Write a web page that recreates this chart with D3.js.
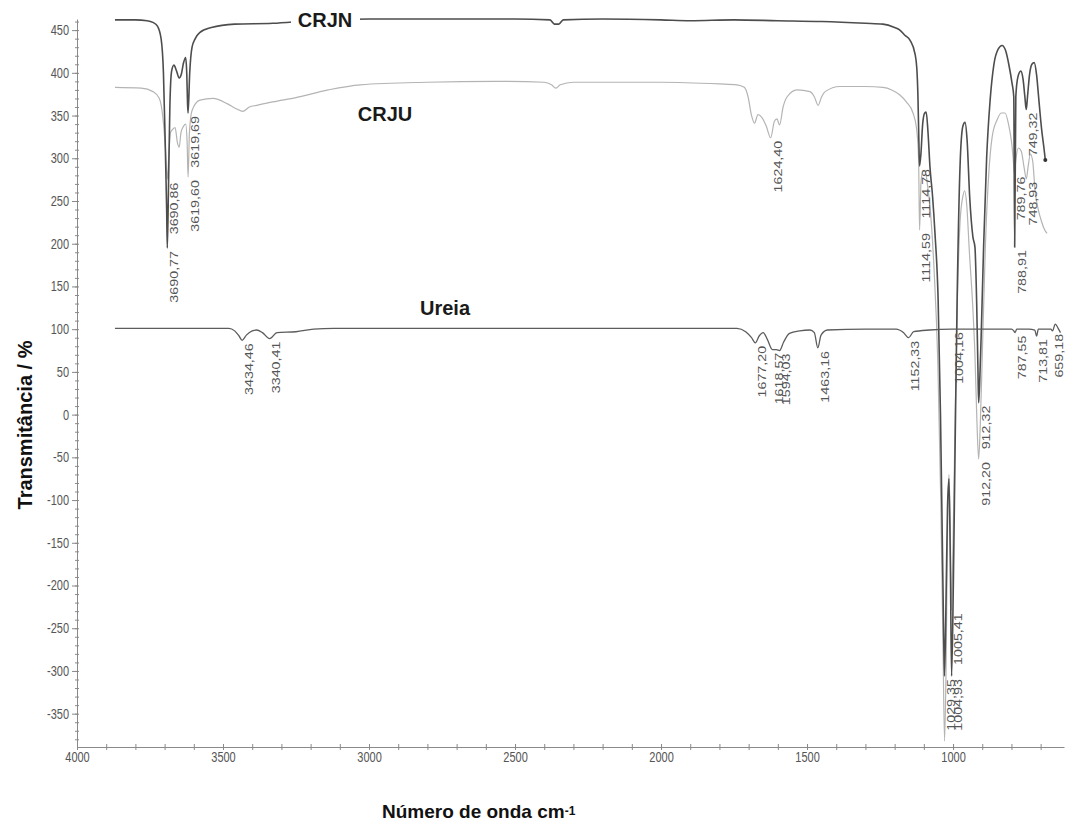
<!DOCTYPE html>
<html lang="pt">
<head>
<meta charset="UTF-8">
<title>FTIR CRJN / CRJU / Ureia</title>
<script src="https://cdn.jsdelivr.net/npm/d3@7"></script>
<style>
 body { margin: 0; background: #fff; font-family: "Liberation Sans", Arial, sans-serif; }
</style>
</head>
<body>
<div id="chart"></div>
<script>
const width = 1071, height = 831;

// spectra, [wavenumber cm-1, transmittance]
const crjn = [
  [3870,462],[3800,462],[3760,461],[3740,459],[3725,455],[3712,440],[3704,400],[3698,320],[3693,240],
  [3690.77,195],[3687,260],[3682,360],[3676,402],[3668,409],[3660,403],[3650,394],[3643,398],[3635,412],
  [3628,418],[3624,398],[3621.5,365],[3619.69,353],[3614,400],[3606,430],[3595,440],[3580,447],[3540,453],
  [3460,457],[3330,458],[3200,461],[3000,463],[2700,463],[2500,463],[2380,462],[2365,457],[2350,457],
  [2335,462],[2200,463],[2000,462],[1900,461],[1750,462],[1600,461],[1450,460],[1300,458],[1240,457],
  [1200,453],[1182,450],[1165,444],[1147,438],[1130,422],[1124,405],[1120,370],[1117,320],[1114.78,291],
  [1110,305],[1104,340],[1097,353],[1092,354],[1086,332],[1079,290],[1070,255],[1062,213],[1051,134],
  [1043,0],[1037,-140],[1032,-260],[1029.35,-306],[1025,-240],[1019,-110],[1014,-75],[1009,-180],
  [1004.93,-306],[999,-200],[993,-40],[986,134],[975,300],[966,338],[959,342],[952,322],[943,255],
  [932,208],[925,196],[919,130],[914.5,50],[912.32,14],[909,35],[903,100],[895,200],[885,300],[873,368],
  [860,410],[845,428],[832,432],[820,426],[808,408],[798,388],[792,372],[788.91,196],[785,372],[778,395],
  [768,402],[760,392],[754,372],[749.32,357],[745,372],[738,398],[730,410],[722,412],[714,398],[706,368],
  [697,335],[688,310],[684,298]
];

const crju = [
  [3870,383],[3780,382],[3740,378],[3718,370],[3705,345],[3697,310],[3690.86,275],[3686,300],[3680,330],
  [3672,334],[3664,336],[3656,318],[3650,313],[3644,330],[3636,337],[3628,340],[3623,320],[3619.60,278],
  [3615,330],[3606,356],[3579,368],[3534,370],[3486,364],[3455,358],[3431,355],[3410,360],[3384,362],
  [3330,366],[3250,371],[3140,380],[3030,386],[2800,389],[2570,390],[2400,389],[2375,386],[2360,382],
  [2345,386],[2300,389],[2000,389],[1800,387],[1740,386],[1715,383],[1702,372],[1690,350],[1680,341],
  [1668,351],[1655,348],[1640,338],[1624.40,324],[1612,343],[1603,346],[1594,339],[1582,360],[1568,372],
  [1534,380],[1490,378],[1475,372],[1462,362],[1450,372],[1438,378],[1387,384],[1300,384],[1240,383],
  [1210,380],[1182,374],[1160,366],[1137,353],[1125,335],[1118,300],[1114.59,216],[1110,270],[1104,285],
  [1096,286],[1088,270],[1078,240],[1065,170],[1052,60],[1042,-100],[1034,-280],[1029,-382],[1024,-300],
  [1019,-140],[1014,-70],[1010,-120],[1005.41,-229],[1000,-150],[993,-10],[986,120],[976,225],[966,256],
  [960,262],[953,245],[944,190],[933,130],[925,70],[918,-10],[912.20,-52],[907,-15],[899,80],[889,200],
  [878,280],[866,325],[849,345],[835,353],[822,353],[810,340],[800,320],[794,300],[789.76,282],[785,298],
  [776,312],[766,308],[757,290],[748.93,276],[743,290],[735,305],[727,296],[719,262],[708,240],[697,226],
  [686,216],[678,212]
];

const ureia = [
  [3870,101],[3600,101],[3480,101],[3460,98],[3445,92],[3434.46,87],[3420,93],[3400,98],[3385,99],
  [3365,96],[3340.41,89],[3315,96],[3250,97],[3190,100],[3120,101],[2500,101],[1900,101],[1740,101],
  [1710,97],[1690,90],[1677.20,84],[1664,92],[1650,96],[1636,88],[1618.57,76],[1605,76],[1594.03,75],
  [1580,85],[1560,95],[1525,98],[1490,99],[1475,96],[1463.16,78],[1452,93],[1430,99],[1300,100],
  [1195,100],[1170,96],[1152.33,90],[1135,97],[1080,99],[1004.16,100],[900,100],[800,100],[792,98],
  [787.55,96],[782,100],[740,100],[720,99],[713.81,92],[708,100],[680,100],[665,100],[659.18,98],
  [650,106],[640,101],[632,96]
];

// peak labels [wavenumber, text]
const crjnPeaks = [[3690.77,"3690,77"],[3619.69,"3619,69"],[1114.78,"1114,78"],[1029.35,"1029,35"],
  [1004.93,"1004,93"],[912.32,"912,32"],[788.91,"788,91"],[749.32,"749,32"]];
const crjuPeaks = [[3690.86,"3690,86"],[3619.60,"3619,60"],[1624.40,"1624,40"],[1114.59,"1114,59"],
  [1005.41,"1005,41"],[912.20,"912,20"],[789.76,"789,76"],[748.93,"748,93"]];
const ureiaPeaks = [[3434.46,"3434,46"],[3340.41,"3340,41"],[1677.20,"1677,20"],[1618.57,"1618,57"],
  [1594.03,"1594,03"],[1463.16,"1463,16"],[1152.33,"1152,33"],[1004.16,"1004,16"],[787.55,"787,55"],
  [713.81,"713,81"],[659.18,"659,18"]];

const xTicks = [4000, 3500, 3000, 2500, 2000, 1500, 1000];
const yTicks = [450, 400, 350, 300, 250, 200, 150, 100, 50, 0, -50, -100, -150, -200, -250, -300, -350];

const svg = d3.select("#chart").append("svg")
  .attr("width", width).attr("height", height);

const x = d3.scaleLinear().domain([4000, 620]).range([77, 1064]);
const y = d3.scaleLinear().domain([-389, 463]).range([747, 19]);

const axisColor = "#8a8a8a";
const tickFont = "11px";

// x axis: minor + major ticks, crossing the line
const gxm = svg.append("g").attr("transform", `translate(0,${y.range()[0]})`)
  .call(d3.axisBottom(x).tickValues(d3.range(4000, 620, -100)).tickSize(3).tickSizeOuter(0).tickFormat(""));
gxm.selectAll(".tick line").attr("y1", -3);
const gx = svg.append("g").attr("transform", `translate(0,${y.range()[0]})`)
  .call(d3.axisBottom(x).tickValues(xTicks).tickSize(3).tickSizeOuter(0).tickFormat(d => String(d)));
gx.select(".domain").remove();
gx.selectAll(".tick line").attr("y1", -3);
gx.selectAll("text").attr("y", 4).attr("fill", "#555").style("font-size", tickFont)
  .attr("transform", "scale(1,1.27)");

// y axis
const gym = svg.append("g").attr("transform", `translate(${x.range()[0]},0)`)
  .call(d3.axisLeft(y).tickValues(d3.range(-380, 463, 10)).tickSize(2).tickSizeOuter(0).tickFormat(""));
gym.selectAll(".tick line").attr("x1", 2);
const gy = svg.append("g").attr("transform", `translate(${x.range()[0]},0)`)
  .call(d3.axisLeft(y).tickValues(yTicks).tickSize(5).tickSizeOuter(0).tickFormat(d => String(d)));
gy.select(".domain").remove();
gy.selectAll("text").attr("x", -8).attr("fill", "#555").style("font-size", tickFont)
  .attr("transform", "scale(1,1.27)");

svg.selectAll(".domain").attr("stroke", axisColor);
svg.selectAll(".tick line").attr("stroke", axisColor);

// spectra
const line = d3.line().x(d => x(d[0])).y(d => y(d[1])).curve(d3.curveMonotoneX);

const series = [
  { data: crju, peaks: crjuPeaks, color: "#b4b4b4", w: 1.2 },
  { data: crjn, peaks: crjnPeaks, color: "#4d4d4d", w: 1.6 },
  { data: ureia, peaks: ureiaPeaks, color: "#5c5c5c", w: 1.3 }
];

series.forEach(s => {
  svg.append("path").attr("d", line(s.data))
    .attr("fill", "none").attr("stroke", s.color).attr("stroke-width", s.w)
    .attr("stroke-linejoin", "round");
});

const last = crjn[crjn.length - 1];
svg.append("circle").attr("cx", x(last[0])).attr("cy", y(last[1])).attr("r", 2).attr("fill", "#333");

function valueAt(data, w) {
  for (let i = 0; i < data.length - 1; i++) {
    const a = data[i], b = data[i + 1];
    if (w <= a[0] && w >= b[0]) {
      const t = (a[0] - w) / (a[0] - b[0]);
      return a[1] + t * (b[1] - a[1]);
    }
  }
  return data[data.length - 1][1];
}

// peak labels, OMNIC style, under each band
series.forEach(s => {
  s.peaks.forEach(([w, label]) => {
    const px = x(w) + 7, py = y(valueAt(s.data, w)) + 3;
    svg.append("text")
      .attr("transform", `translate(${px},${py}) rotate(-90) scale(1.3,1)`)
      .attr("text-anchor", "end")
      .attr("dominant-baseline", "central")
      .attr("fill", "#555")
      .style("font-size", "11px")
      .text(label);
  });
});

// series names
svg.append("rect").attr("x", 291).attr("y", 8).attr("width", 69).attr("height", 23).attr("fill", "#fff");
const names = [["CRJN", 325, 20], ["CRJU", 385, 114], ["Ureia", 445, 308]];
svg.selectAll(".sname").data(names).enter().append("text")
  .attr("class", "sname")
  .attr("x", d => d[1]).attr("y", d => d[2])
  .attr("text-anchor", "middle").attr("dominant-baseline", "central")
  .attr("fill", "#1a1a1a")
  .style("font-size", "20px").style("font-weight", "bold")
  .text(d => d[0]);

// axis titles
svg.append("text")
  .attr("transform", "translate(25,425) rotate(-90)")
  .attr("text-anchor", "middle").attr("dominant-baseline", "central")
  .attr("fill", "#111").style("font-size", "20px").style("font-weight", "bold")
  .text("Transmitância / %");

const xt = svg.append("text")
  .attr("x", 382).attr("y", 818)
  .attr("fill", "#111").style("font-size", "19px").style("font-weight", "bold")
  .text("Número de onda cm");
xt.append("tspan").attr("dy", -3).style("font-size", "12px").text("-1");
</script>
</body>
</html>
